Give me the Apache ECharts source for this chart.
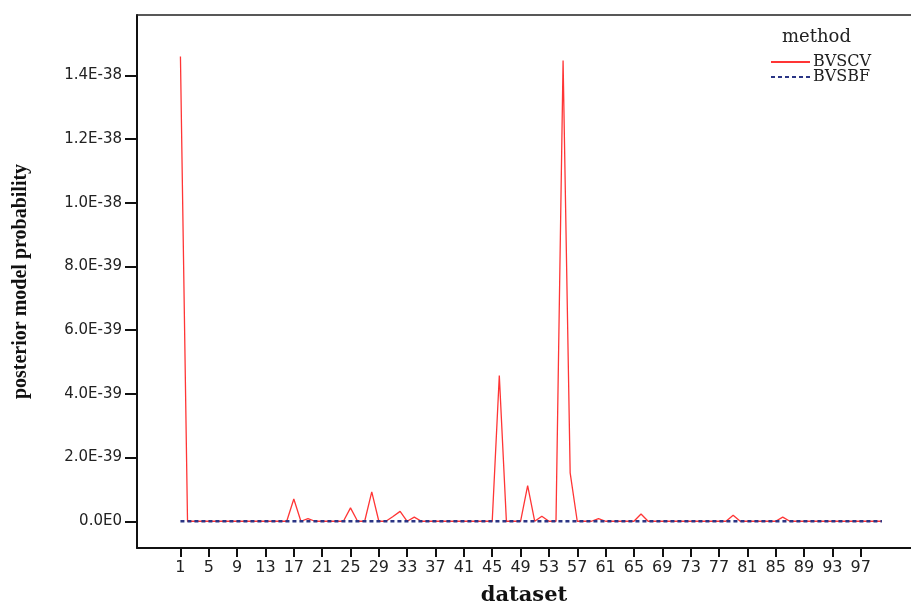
<!DOCTYPE html>
<html>
<head>
<meta charset="utf-8">
<script src="https://cdn.jsdelivr.net/npm/echarts@6/dist/echarts.min.js"></script>
<style>
html,body{margin:0;padding:0;background:#fff;}
#chart{width:911px;height:601px;}
</style>
</head>
<body>
<div id="chart"></div>
<script>
// dataset numbers (x)
const datasets = [1,2,3,4,5,6,7,8,9,10,11,12,13,14,15,16,17,18,19,20,
  21,22,23,24,25,26,27,28,29,30,31,32,33,34,35,36,37,38,39,40,
  41,42,43,44,45,46,47,48,49,50,51,52,53,54,55,56,57,58,59,60,
  61,62,63,64,65,66,67,68,69,70,71,72,73,74,75,76,77,78,79,80,
  81,82,83,84,85,86,87,88,89,90,91,92,93,94,95,96,97,98,99,100];

// posterior model probability, in units of 1E-39
const bvscv = [14.6,0,0,0,0,0,0,0,0,0,0,0,0,0,0,0,0.70,0,0.08,0,
  0,0,0,0,0.42,0,0,0.92,0,0,0.15,0.31,0,0.13,0,0,0,0,0,0,
  0,0,0,0,0,4.58,0,0,0,1.12,0,0.16,0,0,14.47,1.52,0,0,0,0.08,
  0,0,0,0,0,0.23,0,0,0,0,0,0,0,0,0,0,0,0,0.19,0,
  0,0,0,0,0,0.13,0,0,0,0,0,0,0,0,0,0,0,0,0,0];

const bvsbf = [0,0,0,0,0,0,0,0,0,0,0,0,0,0,0,0,0,0,0,0,
  0,0,0,0,0,0,0,0,0,0,0,0,0,0,0,0,0,0,0,0,
  0,0,0,0,0,0,0,0,0,0,0,0,0,0,0,0,0,0,0,0,
  0,0,0,0,0,0,0,0,0,0,0,0,0,0,0,0,0,0,0,0,
  0,0,0,0,0,0,0,0,0,0,0,0,0,0,0,0,0,0,0,0];

const xTicks = [1,5,9,13,17,21,25,29,33,37,41,45,49,53,57,61,65,69,73,77,81,85,89,93,97];
const yTicks = [0,2,4,6,8,10,12,14];
const yTickLabels = ['0.0E0','2.0E-39','4.0E-39','6.0E-39','8.0E-39','1.0E-38','1.2E-38','1.4E-38'];

const chart = echarts.init(document.getElementById('chart'), null, {renderer:'canvas'});
const sans = 'DejaVu Sans';
const serif = 'DejaVu Serif';

chart.setOption({
  animation: false,
  backgroundColor: '#fff',
  title: {
    text: 'method', left: 782, top: 28, padding: 0,
    textStyle: {fontFamily: serif, fontSize: 18, fontWeight: 'normal', color: '#222'}
  },
  legend: {
    orient: 'vertical', left: 770, top: 54, itemGap: -1, padding: 0,
    itemWidth: 39, itemHeight: 14,
    itemStyle: {opacity: 0},
    textStyle: {fontFamily: serif, fontSize: 16, color: '#222', padding: [0,0,0,-2]},
    data: ['BVSCV', 'BVSBF']
  },
  grid: {left: 137, top: 15, right: 0, bottom: 53, containLabel: false, outerBoundsMode: 'none'},
  xAxis: [{
    type: 'value', min: -5.13, max: 104.1,
    name: 'dataset', nameLocation: 'middle', nameGap: 37,
    nameTextStyle: {fontFamily: serif, fontSize: 21, fontWeight: 'bold', color: '#111'},
    axisLine: {show: true, onZero: false, lineStyle: {color: '#111', width: 2}},
    axisTick: {show: true, length: 9, customValues: xTicks, lineStyle: {color: '#111', width: 2}},
    axisLabel: {customValues: xTicks, margin: 12, fontFamily: sans, fontSize: 16, color: '#222'},
    splitLine: {show: false}
  }, {
    type: 'value', position: 'top', min: -5.13, max: 104.1,
    axisLine: {show: true, onZero: false, lineStyle: {color: '#222', width: 1.5}},
    axisTick: {show: false}, axisLabel: {show: false}, splitLine: {show: false}
  }],
  yAxis: {
    type: 'value', min: -0.84, max: 15.9,
    name: 'posterior model probability', nameLocation: 'middle', nameGap: 106,
    nameTextStyle: {fontFamily: 'Liberation Serif', fontSize: 20, fontWeight: 'bold', color: '#111'},
    axisLine: {show: true, onZero: false, lineStyle: {color: '#111', width: 2}},
    axisTick: {show: true, length: 12, customValues: yTicks, lineStyle: {color: '#111', width: 2}},
    axisLabel: {
      customValues: yTicks, margin: 15, fontFamily: sans, fontSize: 15, color: '#222',
      formatter: function (v) { const i = yTicks.indexOf(Math.round(v)); return i >= 0 ? yTickLabels[i] : ''; }
    },
    splitLine: {show: false}
  },
  series: [{
    name: 'BVSCV', type: 'line', showSymbol: false, symbol: 'none',
    data: datasets.map((d, i) => [d, bvscv[i]]),
    lineStyle: {color: '#ff3535', width: 1.3},
    itemStyle: {color: '#ff3535'}, z: 2
  }, {
    name: 'BVSBF', type: 'line', showSymbol: false, symbol: 'none',
    data: datasets.map((d, i) => [d, bvsbf[i]]),
    lineStyle: {color: '#2a3585', width: 2.5, type: [4, 3]},
    itemStyle: {color: '#2a3585'}, z: 3
  }]
});
</script>
</body>
</html>
